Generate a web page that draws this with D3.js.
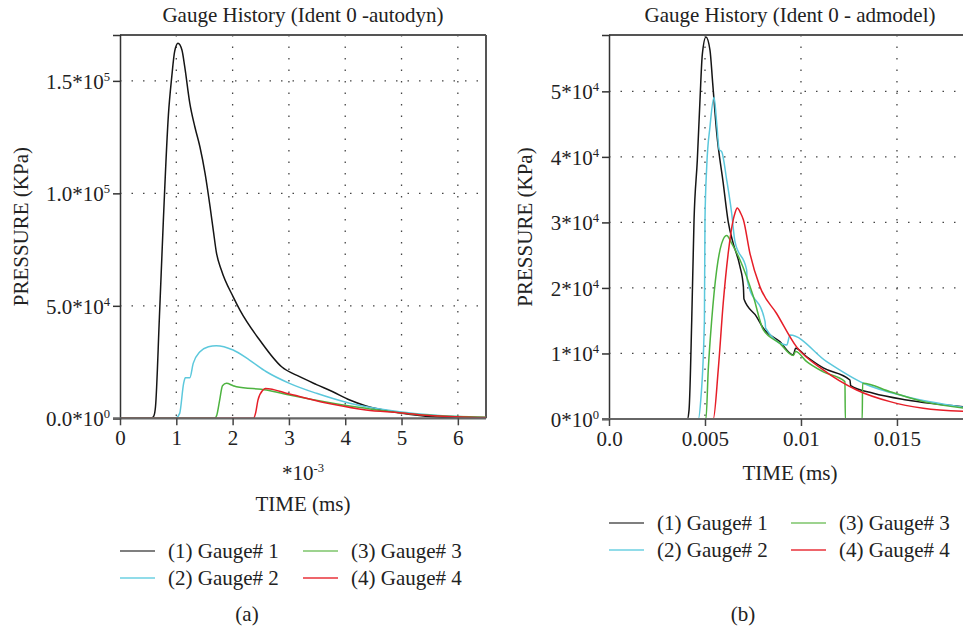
<!DOCTYPE html>
<html>
<head>
<meta charset="utf-8">
<script src="https://cdn.jsdelivr.net/npm/d3@7"></script>
<style>
  body { margin: 0; background: #fff; }
  svg text { font-family: "Liberation Serif", "DejaVu Serif", serif; fill: #222; }
</style>
</head>
<body>
<svg id="chart" width="963" height="629"></svg>
<script>
// ---- data: [time, pressure (KPa)] ----
// panel (a): time in units of 1e-3 ms
const autodynGauge1 = [[0,0],[0.55,0],[0.6,1000],[0.63,5000],[0.7,45000],[0.77,88000],[0.86,135000],[0.92,152000],[0.97,163000],[1.03,166700],[1.1,163700],[1.15,156200],[1.24,140000],[1.33,129500],[1.42,120600],[1.51,109000],[1.6,94000],[1.66,83000],[1.71,74000],[1.8,65900],[2.01,54000],[2.13,48100],[2.48,34800],[2.87,22900],[3.19,18500],[3.49,15000],[3.78,11800],[4.08,8130],[4.37,5500],[4.96,2500],[5.56,700],[6.0,350],[6.5,200]];
const autodynGauge2 = [[0,0],[0.94,0],[1.0,300],[1.06,2200],[1.13,15500],[1.16,18000],[1.24,18000],[1.3,24400],[1.42,29600],[1.57,31800],[1.71,32300],[2.01,30350],[2.3,25900],[2.6,20700],[3.01,15550],[3.49,11100],[4.08,6700],[4.96,2950],[5.56,1500],[6.0,800],[6.5,400]];
const autodynGauge3 = [[0,0],[1.68,0],[1.72,1500],[1.77,8100],[1.82,14500],[1.89,15550],[2.01,14500],[2.07,14000],[2.6,12600],[3.01,10350],[3.78,6700],[4.37,4440],[4.96,2500],[5.56,1200],[6.5,500]];
const autodynGauge4 = [[0,0],[2.37,0],[2.41,2500],[2.45,8100],[2.54,12600],[2.58,13300],[3.01,10800],[3.78,6200],[4.37,3700],[4.96,2500],[5.56,1100],[6.5,300]];

// panel (b): time in ms
const admodelGauge1 = [[0,0],[0.00408,0],[0.00417,1400],[0.00431,15100],[0.00443,30400],[0.0046,39500],[0.00474,48700],[0.00486,55600],[0.00505,58300],[0.00526,56300],[0.0054,51300],[0.00561,43700],[0.00595,36000],[0.00621,30100],[0.00647,26800],[0.00682,23300],[0.007,20200],[0.00703,18300],[0.00769,15600],[0.00804,13850],[0.0089,11800],[0.0096,9780],[0.00972,10800],[0.0103,9500],[0.01116,7800],[0.01255,5950],[0.01259,5080],[0.01377,3920],[0.0155,2900],[0.01844,1880]];
const admodelGauge2 = [[0,0],[0.00465,0],[0.00478,2900],[0.00497,15100],[0.005,30400],[0.00509,38500],[0.00526,44600],[0.00547,49100],[0.00561,45150],[0.00574,41100],[0.00587,40800],[0.00613,36500],[0.00639,31400],[0.00656,27100],[0.00717,22750],[0.0072,21200],[0.00813,14860],[0.00816,13850],[0.00926,11300],[0.00943,12800],[0.01134,8750],[0.01325,5450],[0.0155,3400],[0.01844,1790]];
const admodelGauge3 = [[0,0],[0.00505,0],[0.00517,7500],[0.00535,15100],[0.00561,22750],[0.00587,26800],[0.00613,28000],[0.00639,26800],[0.00682,24300],[0.00752,18700],[0.00804,13600],[0.0089,11550],[0.0096,9700],[0.00972,10300],[0.0103,8750],[0.01116,7200],[0.01229,5700],[0.01231,0],[0.01319,0],[0.01321,5450],[0.01464,4170],[0.01637,2650],[0.01844,1680]];
const admodelGauge4 = [[0,0],[0.00543,0],[0.00569,7500],[0.00595,17700],[0.00621,25300],[0.00647,30400],[0.00656,31400],[0.00668,32200],[0.00686,31400],[0.007,30400],[0.00734,25300],[0.00786,20200],[0.00873,16100],[0.00977,11000],[0.01116,7500],[0.0129,4430],[0.01464,2650],[0.01637,1630],[0.01844,1170]];

const gaugeNames = ["(1) Gauge# 1", "(2) Gauge# 2", "(3) Gauge# 3", "(4) Gauge# 4"];

// tick labels: [value, mantissa, exponent]
const autodynYTicks = [[0,"0.0*10","0"],[50000,"5.0*10","4"],[100000,"1.0*10","5"],[150000,"1.5*10","5"]];
const autodynXTicks = [0,1,2,3,4,5,6];
const admodelYTicks = [[0,"0*10","0"],[10000,"1*10","4"],[20000,"2*10","4"],[30000,"3*10","4"],[40000,"4*10","4"],[50000,"5*10","4"]];
const admodelXTicks = [[0,"0.0"],[0.005,"0.005"],[0.01,"0.01"],[0.015,"0.015"]];

const lineColors = ["#151515", "#5cc8dc", "#4db340", "#e61e28"];
const legendColors = ["#555", "#6dd0e2", "#7cc46a", "#e8323a"];
const FS = 21;

const svg = d3.select("#chart");

function supText(sel, base, exp) {
  sel.text(null);
  sel.append("tspan").text(base);
  sel.append("tspan").attr("font-size", "0.6em").attr("dy", "-0.65em").text(exp);
}

function drawPanel(cfg) {
  const x = d3.scaleLinear().domain(cfg.xDomain).range([cfg.left, cfg.right]);
  const y = d3.scaleLinear().domain(cfg.yDomain).range([cfg.bottom, cfg.top]);
  const g = svg.append("g");

  // dotted grid
  g.append("g").selectAll("line").data(cfg.yTicks.filter(d => d[0] > 0)).enter().append("line")
    .attr("x1", cfg.left).attr("x2", cfg.right)
    .attr("y1", d => y(d[0])).attr("y2", d => y(d[0]))
    .attr("stroke", "#444").attr("stroke-width", 1.3).attr("stroke-dasharray", "1.5,10");
  g.append("g").selectAll("line").data(cfg.xTicks.filter(d => d[0] > 0)).enter().append("line")
    .attr("x1", d => x(d[0])).attr("x2", d => x(d[0]))
    .attr("y1", cfg.top).attr("y2", cfg.bottom)
    .attr("stroke", "#444").attr("stroke-width", 1.3).attr("stroke-dasharray", "1.5,10");

  // frame
  g.append("line").attr("x1", cfg.left).attr("x2", cfg.right).attr("y1", cfg.top).attr("y2", cfg.top)
    .attr("stroke", "#555").attr("stroke-width", 2);
  if (cfg.rightFrame) {
    g.append("line").attr("x1", cfg.right).attr("x2", cfg.right).attr("y1", cfg.top).attr("y2", cfg.bottom)
      .attr("stroke", "#555").attr("stroke-width", 2);
  }

  // lines
  const clipId = "clip" + cfg.id;
  svg.append("clipPath").attr("id", clipId).append("rect")
    .attr("x", cfg.left).attr("y", cfg.top - 2).attr("width", cfg.right - cfg.left).attr("height", cfg.bottom - cfg.top + 2);
  const line = d3.line().x(d => x(d[0])).y(d => y(d[1])).curve(d3.curveMonotoneX);
  g.append("g").attr("clip-path", `url(#${clipId})`)
    .selectAll("path").data(cfg.series).enter().append("path")
    .attr("d", d => line(d))
    .attr("fill", "none")
    .attr("stroke", (d, i) => lineColors[i])
    .attr("stroke-width", 1.5);

  // y axis
  const yAxis = d3.axisLeft(y).tickValues(cfg.yTicks.map(d => d[0])).tickSize(7).tickPadding(3);
  const ya = g.append("g").attr("transform", `translate(${cfg.left},0)`).call(yAxis);
  ya.select(".domain").attr("stroke", "#333").attr("stroke-width", 1.5);
  ya.selectAll(".tick line").attr("stroke", "#333").attr("stroke-width", 1.5);
  ya.selectAll(".tick text").attr("font-size", FS).attr("font-family", null).attr("dy", "0.35em")
    .each(function (d, i) { supText(d3.select(this), cfg.yTicks[i][1], cfg.yTicks[i][2]); });

  // x axis
  const xAxis = d3.axisBottom(x).tickValues(cfg.xTicks.map(d => d[0])).tickSize(7).tickPadding(5)
    .tickFormat((d, i) => cfg.xTicks[i][1]);
  const xa = g.append("g").attr("transform", `translate(0,${cfg.bottom})`).call(xAxis);
  xa.select(".domain").attr("d", `M${cfg.left - 7},0H${cfg.right}`).attr("stroke", "#666").attr("stroke-width", 2.2);
  xa.selectAll(".tick line").attr("stroke", "#444").attr("stroke-width", 1.5);
  xa.selectAll(".tick text").attr("font-size", FS).attr("font-family", null);

  // titles and labels
  g.append("text").attr("x", cfg.titleX).attr("y", 22).attr("text-anchor", "middle")
    .attr("font-size", FS).text(cfg.title);
  g.append("text").attr("transform", `translate(${cfg.yLabelX},${(cfg.top + cfg.bottom) / 2}) rotate(-90)`)
    .attr("text-anchor", "middle").attr("dy", "0.35em").attr("font-size", FS).text("PRESSURE (KPa)");
  if (cfg.xExp) {
    supText(g.append("text").attr("x", cfg.titleX).attr("y", 480).attr("text-anchor", "middle")
      .attr("font-size", FS), "*10", cfg.xExp);
  }
  g.append("text").attr("x", cfg.titleX).attr("y", cfg.timeY).attr("text-anchor", "middle")
    .attr("font-size", FS).text("TIME (ms)");

  // legend
  const leg = g.append("g").selectAll("g").data(gaugeNames).enter().append("g")
    .attr("transform", (d, i) => `translate(${cfg.legendX + Math.floor(i / 2) * cfg.legendColW},${cfg.legendY + (i % 2) * 27})`);
  leg.append("line").attr("x1", 0).attr("x2", 35).attr("y1", 0).attr("y2", 0)
    .attr("stroke", (d, i) => legendColors[i]).attr("stroke-width", 1.6);
  leg.append("text").attr("x", 48).attr("dy", "0.33em").attr("font-size", FS).text(d => d);

  g.append("text").attr("x", cfg.capX).attr("y", 621).attr("text-anchor", "middle")
    .attr("font-size", FS).text(cfg.caption);
}

drawPanel({
  id: "a", left: 120, right: 486, top: 35, bottom: 418.3,
  xDomain: [0, 6.5], yDomain: [0, 170400],
  xTicks: autodynXTicks.map(v => [v, String(v)]), yTicks: autodynYTicks,
  series: [autodynGauge1, autodynGauge2, autodynGauge3, autodynGauge4],
  rightFrame: true, title: "Gauge History (Ident 0 -autodyn)", titleX: 303,
  yLabelX: 21, xExp: "-3", timeY: 511,
  legendX: 120, legendY: 551, legendColW: 183, capX: 247, caption: "(a)"
});

drawPanel({
  id: "b", left: 609, right: 963, top: 35, bottom: 419,
  xDomain: [0, 0.01844], yDomain: [0, 58600],
  xTicks: admodelXTicks, yTicks: admodelYTicks,
  series: [admodelGauge1, admodelGauge2, admodelGauge3, admodelGauge4],
  rightFrame: false, title: "Gauge History (Ident 0 - admodel)", titleX: 790,
  yLabelX: 525, xExp: null, timeY: 480,
  legendX: 609, legendY: 523, legendColW: 182, capX: 743, caption: "(b)"
});
</script>
</body>
</html>
